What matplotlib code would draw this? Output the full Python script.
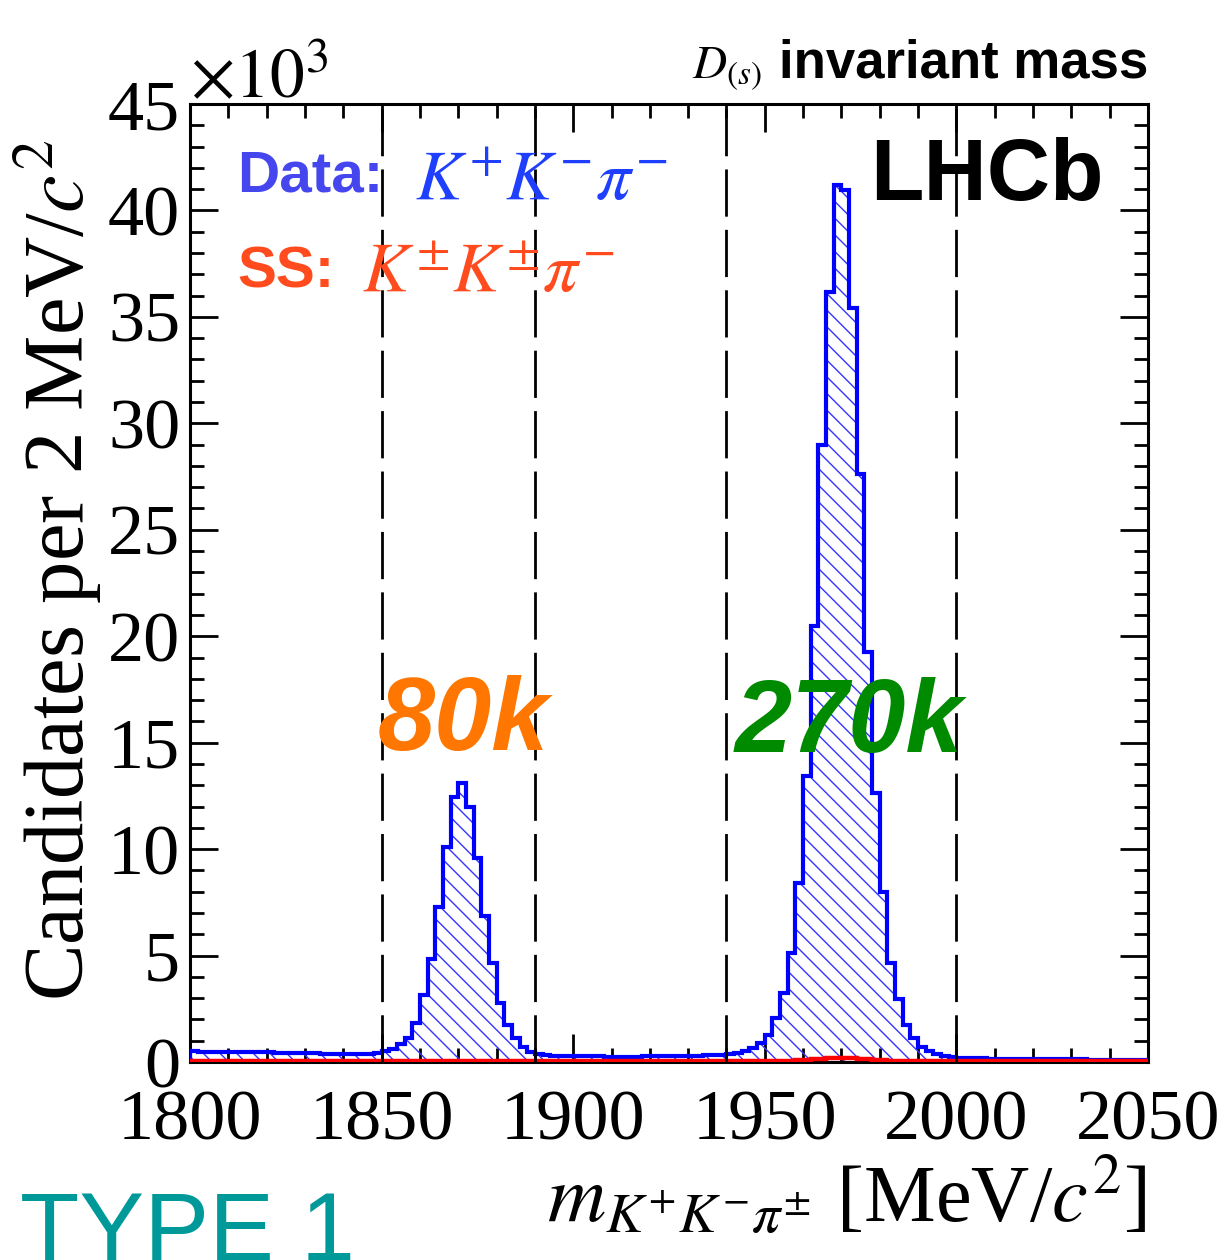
import numpy as np
import matplotlib
matplotlib.use("Agg")
import matplotlib.pyplot as plt
from matplotlib.ticker import MultipleLocator

# ---------------- data (thousands of candidates per 2 MeV/c^2) ----------------
bin_low = 1800
bin_high = 2050
bin_width = 2

data_left_floor = [0.50, 0.49, 0.49, 0.48, 0.48, 0.47, 0.47, 0.46, 0.46, 0.45,
                   0.45, 0.44, 0.43, 0.43, 0.42, 0.41, 0.40, 0.39, 0.38, 0.37,
                   0.37, 0.36, 0.37, 0.39, 0.43]                       # 1800-1848
data_dplus = [0.50, 0.62, 0.85, 1.13, 1.83, 3.15, 4.84, 7.30, 10.12, 12.47,
              13.10, 12.00, 9.60, 6.86, 4.67, 2.77, 1.74, 1.13, 0.72, 0.49,
              0.38]                                                     # 1850-1890
data_mid_floor = [0.33, 0.30, 0.28, 0.27, 0.27, 0.26, 0.26, 0.26, 0.25, 0.25,
                  0.25, 0.25, 0.25, 0.26, 0.26, 0.26, 0.27, 0.27, 0.28, 0.29,
                  0.30, 0.31, 0.33, 0.35]                               # 1892-1938
data_ds = [0.38, 0.41, 0.53, 0.64, 0.88, 1.27, 2.05, 3.23, 5.11, 8.40,
           13.45, 20.50, 28.96, 36.17, 41.20, 40.96, 35.43, 27.60, 19.24, 12.63,
           8.00, 4.67, 2.95, 1.74, 1.11, 0.72, 0.53, 0.38, 0.28, 0.22]  # 1940-1998
data_right_floor = [0.19, 0.18, 0.17, 0.17, 0.16, 0.16, 0.15, 0.15, 0.14, 0.14,
                    0.14, 0.13, 0.13, 0.13, 0.12, 0.12, 0.12, 0.11, 0.11, 0.11,
                    0.11, 0.10, 0.10, 0.10, 0.10]                       # 2000-2048

ss_left = [0.05, 0.05, 0.05, 0.05, 0.05, 0.05, 0.05, 0.05, 0.05, 0.05,
           0.05, 0.05, 0.05, 0.05, 0.05, 0.05, 0.05, 0.05, 0.05, 0.05,
           0.05, 0.05, 0.05, 0.05, 0.05, 0.05, 0.05, 0.05, 0.05, 0.05,
           0.05, 0.05, 0.05, 0.05, 0.05, 0.05, 0.05, 0.05, 0.05, 0.05,
           0.05, 0.05, 0.05, 0.05, 0.05, 0.05, 0.04, 0.04, 0.04, 0.04,
           0.04, 0.04, 0.04, 0.04, 0.04, 0.04, 0.04, 0.04, 0.04, 0.04,
           0.04, 0.04, 0.04, 0.04, 0.04, 0.04, 0.04, 0.04, 0.04, 0.04,
           0.04, 0.04, 0.04, 0.05, 0.05, 0.05, 0.06, 0.06, 0.07]        # 1800-1956
ss_bump = [0.08, 0.10, 0.13, 0.16, 0.19, 0.21, 0.21, 0.19, 0.16, 0.13,
           0.10, 0.08]                                                  # 1958-1980
ss_right = [0.07, 0.06, 0.06, 0.05, 0.05, 0.05, 0.05, 0.04, 0.04, 0.04,
            0.04, 0.04, 0.04, 0.04, 0.04, 0.04, 0.04, 0.04, 0.04, 0.04,
            0.04, 0.04, 0.04, 0.04, 0.04, 0.04, 0.04, 0.04, 0.04, 0.04,
            0.04, 0.04, 0.04, 0.04]                                     # 1982-2048

window_lines = [1850, 1890, 1940, 2000]
x_ticks = [1800, 1850, 1900, 1950, 2000, 2050]
y_ticks = [0, 5, 10, 15, 20, 25, 30, 35, 40, 45]

data_counts = np.array(data_left_floor + data_dplus + data_mid_floor + data_ds + data_right_floor)
ss_counts = np.array(ss_left + ss_bump + ss_right)
edges = np.arange(bin_low, bin_high + bin_width, bin_width)

# ---------------- style ----------------
W, H = 1228, 1260
plt.rcParams["mathtext.fontset"] = "stix"
plt.rcParams["hatch.linewidth"] = 1.0
plt.rcParams["hatch.color"] = "#3535ff"
plt.rcParams["lines.scale_dashes"] = False

serif = ["Liberation Serif", "DejaVu Serif"]
sans = ["Liberation Sans", "DejaVu Sans"]

fig = plt.figure(figsize=(W / 100, H / 100), dpi=100)
ax = fig.add_axes([190 / W, 1 - 1062 / H, (1148 - 190) / W, (1062 - 104) / H])

blue = "#0000ff"
ax.stairs(data_counts, edges, fill=True, facecolor="none", edgecolor="#3535ff",
          hatch="\\\\", linewidth=0, zorder=2)
ax.stairs(data_counts, edges, color=blue, linewidth=3.0, zorder=3)
ax.stairs(ss_counts, edges, color="#ff0000", linewidth=3.2, zorder=4)

for xv in window_lines:
    ax.axvline(xv, color="black", lw=2.0, ls=(0, (34, 9.5)), zorder=5)

ax.set_xlim(bin_low, bin_high)
ax.set_ylim(0, 45)
ax.set_xticks(x_ticks)
ax.set_yticks(y_ticks)
ax.xaxis.set_minor_locator(MultipleLocator(10))
ax.yaxis.set_minor_locator(MultipleLocator(1))
ax.tick_params(which="both", direction="in", top=True, right=True, width=2.0, color="black")
ax.tick_params(which="major", length=20)
ax.tick_params(which="minor", length=10)
ax.tick_params(axis="x", which="major", pad=20)
ax.tick_params(axis="y", which="major", pad=7)
for lab in ax.get_xticklabels() + ax.get_yticklabels():
    lab.set_fontfamily(serif)
    lab.set_fontsize(52)
for sp in ax.spines.values():
    sp.set_linewidth(2.2)


def ftext(x, y, s, **kw):
    return fig.text(x / W, 1 - y / H, s, **kw)


# axis titles
ftext(58, 570, "Candidates per 2 MeV/$c^{2}$", rotation=90, ha="center", va="center",
      fontsize=61, family=serif)
ftext(1147, 1222, r"$m_{K^{+}K^{-}\pi^{\pm}}$ [MeV/$c^{2}$]", ha="right", va="baseline",
      fontsize=58, family=serif)

# exponent
ftext(190, 97, r"$\times10^{3}$", ha="left", va="baseline", fontsize=50, family=serif)

# header
ftext(1148, 78, "invariant mass", ha="right", va="baseline", fontsize=38,
      fontweight="bold", family=sans)
ftext(762, 78, r"$D_{(s)}$", ha="right", va="baseline", fontsize=34, family=serif)

# legend-like labels
ftext(237, 192, "Data:", ha="left", va="baseline", fontsize=42, fontweight="bold",
      family=sans, color="#4646ee")
ftext(415, 200, r"$K^{+}K^{-}\pi^{-}$", ha="left", va="baseline", fontsize=50,
      family=serif, color="#1f3fff")
ftext(237, 288, "SS:", ha="left", va="baseline", fontsize=42, fontweight="bold",
      family=sans, color="#ff4b1e")
ftext(362, 292, r"$K^{\pm}K^{\pm}\pi^{-}$", ha="left", va="baseline", fontsize=50,
      family=serif, color="#ff4b1e")

ftext(870, 200, "LHCb", ha="left", va="baseline", fontsize=63, fontweight="bold",
      family=sans, color="black")

ftext(378, 750, "80k", ha="left", va="baseline", fontsize=74, fontweight="bold",
      fontstyle="italic", family=sans, color="#ff7700")
ftext(735, 752, "270k", ha="left", va="baseline", fontsize=74, fontweight="bold",
      fontstyle="italic", family=sans, color="#008a00")

ftext(20, 1260, "TYPE 1", ha="left", va="baseline", fontsize=70, fontweight="normal",
      family=sans, color="#009999")

fig.savefig("out.png", dpi=100)
